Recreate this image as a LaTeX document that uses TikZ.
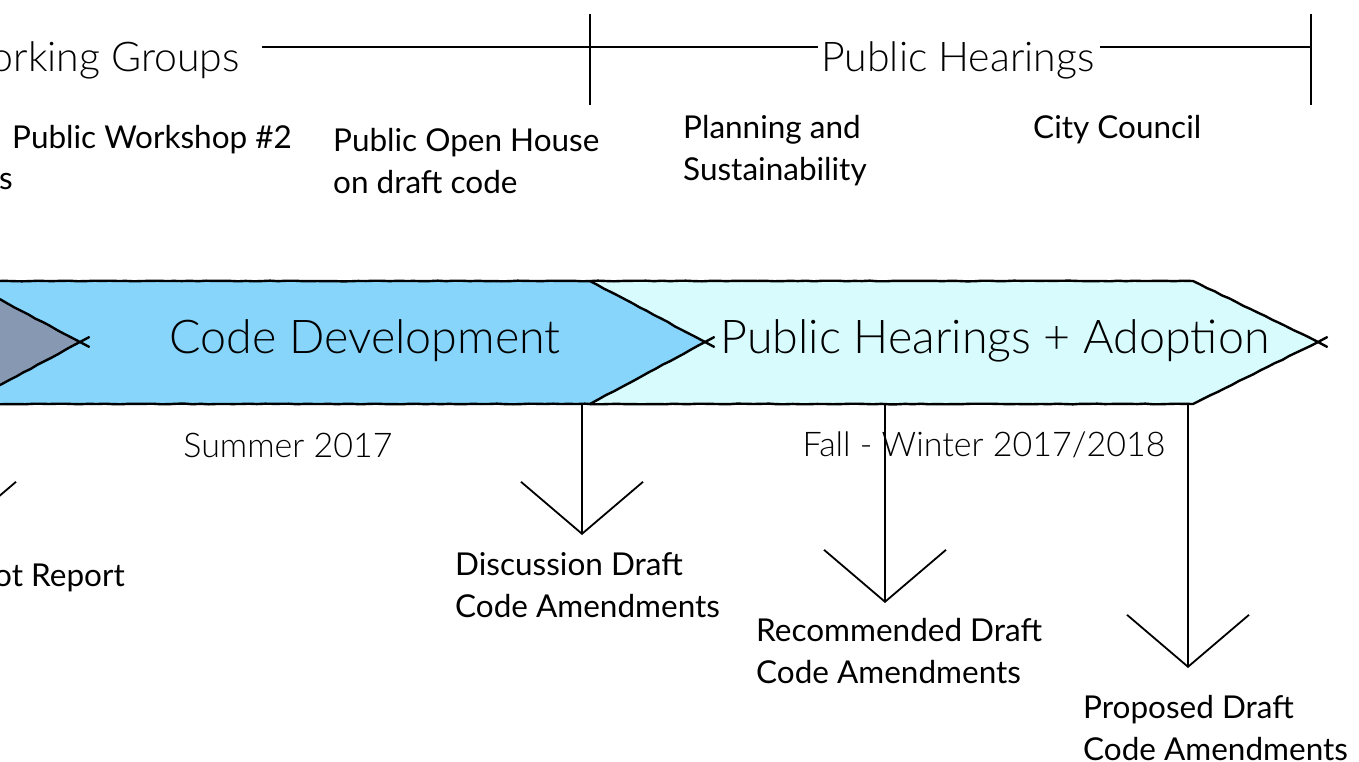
\documentclass[tikz,border=0pt]{standalone}
\usepackage{fontspec}
\setmainfont{Lato}[UprightFont=* Light]
\newfontfamily\latoreg{Lato}
\usetikzlibrary{arrows.meta,decorations.pathmorphing}
\definecolor{grayfill}{HTML}{8799B2}
\definecolor{cdfill}{HTML}{87D5FA}
\definecolor{phfill}{HTML}{D8FBFD}
\tikzset{
 lbl/.style={inner sep=0pt, align=left, font=\latoreg\fontsize{31.5}{42}\selectfont},
 toplbl/.style={inner sep=0pt, font=\fontsize{41}{46}\selectfont},
 bandlbl/.style={inner sep=0pt, font=\fontsize{46.6}{52}\selectfont},
 datelbl/.style={inner sep=0pt, font=\fontsize{34}{40}\selectfont},
 rulel/.style={line width=1.6pt},
 edgel/.style={line width=2.4pt, line cap=round, line join=round, decorate, decoration={random steps, segment length=8pt, amplitude=0.35pt}},
 crossl/.style={line width=2.4pt, line cap=round},
 dropl/.style={line width=1.8pt, -{Straight Barb[length=52pt,width=122pt,line width=1.8pt]}},
}
\begin{document}
\begin{tikzpicture}[x=1pt,y=-1pt]
\useasboundingbox (0,0) rectangle (1359,762);
\fill[white] (0,0) rectangle (1359,762);
\clip (0,0) rectangle (1359,762);

% top timeline
\node[toplbl, anchor=east] (wg) at (240,60) {orking Groups};
\node[toplbl] (ph) at (958,60) {Public Hearings};
\coordinate (t0) at (262,47);
\coordinate (tk1) at (590,47);
\coordinate (t1) at (818,47);
\coordinate (t2) at (1100,47);
\coordinate (tk2) at (1311,47);
\draw[rulel] (t0) -- (t1);
\draw[rulel] (t2) -- (tk2);
\draw[rulel] ([yshift=33pt]tk1) -- ([yshift=-58pt]tk1);
\draw[rulel] ([yshift=33pt]tk2) -- ([yshift=-58pt]tk2);

\node[lbl, anchor=west] (pw2) at (12,140) {Public Workshop \#2};
\node[lbl, anchor=west] (s) at (-1,182) {s};
\node[lbl, anchor=west] (poh) at (333,161) {Public Open House\\on draft code};
\node[lbl, anchor=west] (pns) at (683,151) {Planning and\\Sustainability};
\node[lbl, anchor=west] (cc) at (1033,130) {City Council};

% band
\coordinate (gtip) at (80,342);
\coordinate (cdtop) at (590,281);
\coordinate (cdtip) at (705,342);
\coordinate (cdbot) at (590,404);
\coordinate (phtop) at (1193,281);
\coordinate (phtip) at (1318,342);
\coordinate (phbot) at (1193,404);
\fill[cdfill] (-10,281) -- (cdtop) -- (cdtip) -- (cdbot) -- (-10,404) -- cycle;
\fill[grayfill] (-200,281) -- (-35,281) -- (gtip) -- (-35,404) -- (-200,404) -- cycle;
\fill[phfill] (cdtop) -- (phtop) -- (phtip) -- (phbot) -- (cdbot) -- (cdtip) -- cycle;
\draw[edgel] (-10,281) -- (phtop) -- (phtip) -- (phbot) -- (-10,404);
\draw[edgel] (-35,281) -- (gtip) -- (-35,404);
\draw[edgel] (cdtop) -- (cdtip) -- (cdbot);
\foreach \p in {gtip,cdtip,phtip}{
  \draw[crossl] (\p) -- +(9,4.8);
  \draw[crossl] (\p) -- +(9,-4.8);
}
\node[bandlbl] (cd) at (365,341) {Code Development};
\node[bandlbl] (pha) at (995,341) {Public Hearings + Adoption};

\node[datelbl] (su) at (288,445) {Summer 2017};
\node[datelbl] (fw) at (984,445) {Fall - Winter 2017/2018};

% drops
\coordinate (a0s) at (-45,404);
\coordinate (a0e) at (-45,535);
\coordinate (a1s) at (582,404);
\coordinate (a1e) at (582,535);
\coordinate (a2s) at (885,404);
\coordinate (a2e) at (885,603);
\coordinate (a3s) at (1188,404);
\coordinate (a3e) at (1188,668);
\draw[dropl] (a0s) -- (a0e);
\draw[dropl] (a1s) -- (a1e);
\draw[dropl] (a2s) -- (a2e);
\draw[dropl] (a3s) -- (a3e);

\node[lbl, anchor=east] (sr) at (125,578) {ot Report};
\node[lbl, anchor=west] (dd) at (455,585) {Discussion Draft\\Code Amendments};
\node[lbl, anchor=west] (rd) at (756,651) {Recommended Draft\\Code Amendments};
\node[lbl, anchor=west] (pd) at (1083,728) {Proposed Draft\\Code Amendments};
\end{tikzpicture}
\end{document}
